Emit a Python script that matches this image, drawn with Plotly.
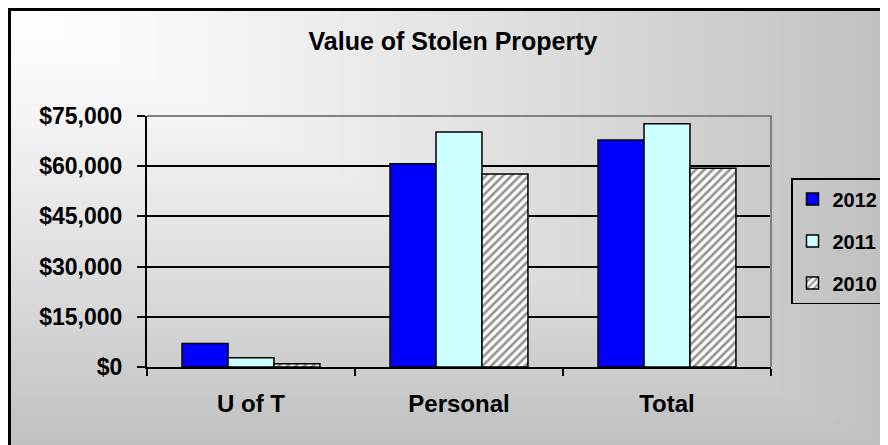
import plotly.graph_objects as go

# data
categories = ["U of T", "Personal", "Total"]
years = ["2012", "2011", "2010"]
values_2012 = [7000, 60700, 67800]
values_2011 = [2800, 70200, 72700]
values_2010 = [1000, 57700, 59400]
y_ticks = [0, 15000, 30000, 45000, 60000, 75000]
y_labels = ["$" + f"{v:,}" for v in y_ticks]

# the page adds an 8px body margin, so the figure is sized to the visible area
OFF = 8
W, H = 888 - OFF, 445 - OFF
ML, MT = 147 - OFF, 116 - OFF
MR, MB = W - (771 - OFF), H - (367 - OFF)
PW, PH = W - ML - MR, H - MT - MB
FONT = "Liberation Sans, Arial, sans-serif"


def px_x(px):
    # screenshot pixel -> paper x
    return (px - OFF - ML) / PW


def px_y(py):
    # screenshot pixel -> paper y
    return (H - MB - (py - OFF)) / PH


styles = {
    "2012": dict(color="#0000ff"),
    "2011": dict(color="#ccffff"),
    "2010": dict(color="white",
                 pattern=dict(shape="/", fgcolor="#2a2a2a", bgcolor="white", size=6, solidity=0.45)),
}

fig = go.Figure()
for year, vals in zip(years, [values_2012, values_2011, values_2010]):
    fig.add_trace(go.Bar(
        x=categories, y=vals, name=year, legendgroup=year,
        marker=dict(**styles[year], line=dict(color="black", width=1.5))))

# corner gradient background inside the black frame
shapes = []
fx0, fy0 = 9, 9
N = 48
for i in range(N):
    t = 1 - i / N
    g = round(255 - 63 * t ** 1.25)
    shapes.append(dict(
        type="rect", xref="paper", yref="paper", layer="below",
        x0=px_x(fx0), x1=px_x(fx0 + t * (888 - fx0 + 4)),
        y1=px_y(fy0), y0=px_y(fy0 + t * (445 - fy0 + 4)),
        fillcolor=f"rgb({g},{g},{g})", line_width=0))
# outer frame
shapes.append(dict(type="rect", xref="paper", yref="paper", layer="below",
                   x0=px_x(fx0), x1=px_x(888 + 20), y1=px_y(fy0), y0=px_y(445 + 20),
                   line=dict(color="black", width=4), fillcolor="rgba(0,0,0,0)"))
# gray top/right border of plot area
shapes.append(dict(type="path", xref="paper", yref="paper", layer="above",
                   path="M 0,1 L 1,1 L 1,0", line=dict(color="#808080", width=2)))

fig.update_layout(
    width=W, height=H, autosize=False,
    margin=dict(l=ML, r=MR, t=MT, b=MB, autoexpand=False),
    paper_bgcolor="white", plot_bgcolor="#c0c0c0",
    font=dict(family=FONT, color="black"),
    title=dict(text="Value of Stolen Property", x=(453 - OFF) / W, xanchor="center",
               xref="container", yref="container", y=1 - (41 - OFF) / H, yanchor="middle",
               font=dict(family=FONT, size=25, weight="bold", color="black")),
    barmode="group", bargap=0.337, bargroupgap=0,
    showlegend=True,
    legend=dict(x=px_x(791), y=px_y(178), xanchor="left", yanchor="top",
                bordercolor="black", borderwidth=1.5, bgcolor="rgba(0,0,0,0)",
                traceorder="grouped", tracegroupgap=13,
                font=dict(family=FONT, size=20, weight="bold", color="black")),
    shapes=shapes,
)
fig.update_xaxes(
    showgrid=False, showline=True, linecolor="black", linewidth=2,
    ticks="outside", tickson="boundaries", ticklen=7, tickwidth=2, tickcolor="black",
    tickfont=dict(family=FONT, size=24, weight="bold", color="black"),
    ticklabelstandoff=14)
fig.update_yaxes(
    range=[0, 75000], tickmode="array", tickvals=y_ticks, ticktext=y_labels,
    showgrid=True, gridcolor="black", gridwidth=1.5, zeroline=False,
    showline=True, linecolor="black", linewidth=2,
    ticks="outside", ticklen=8, tickwidth=1.5, tickcolor="black",
    tickfont=dict(family=FONT, size=23, weight="bold", color="black"),
    ticklabelstandoff=10)

fig.write_html("out.html")
